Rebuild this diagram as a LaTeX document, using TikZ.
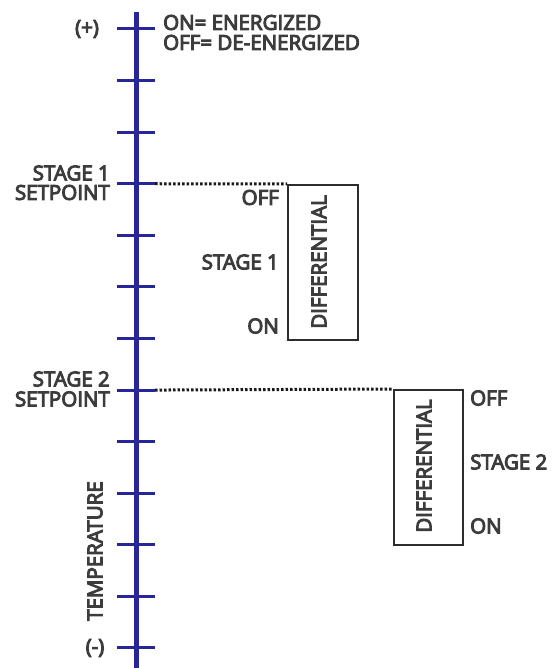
\documentclass[tikz,border=0pt]{standalone}
\usepackage{fontspec}
\newfontfamily\lblfont{Open Sans}[FakeBold=5]
\definecolor{axisblue}{RGB}{38,38,150}
\definecolor{txt}{RGB}{60,60,60}
\definecolor{boxline}{RGB}{45,45,45}
\begin{document}
\begin{tikzpicture}[x=1pt,y=-1pt,
  lbl/.style={font=\lblfont\fontsize{20.5}{20.5}\selectfont, text=txt, inner sep=0pt},
  axisline/.style={draw=axisblue, line width=5pt},
  tickline/.style={draw=axisblue, line width=3pt},
  diffbox/.style={draw=boxline, line width=2pt, inner sep=0pt, anchor=north west},
  dotline/.style={draw=black!90, line width=3pt, dash pattern=on 2.5pt off 2pt}]
\useasboundingbox (0,0) rectangle (552,668);
% axis
\coordinate (atop) at (136,12);
\coordinate (abot) at (136,668);
\draw[axisline] (atop) -- (abot);
% ticks
\foreach \k in {0,...,12}{
  \coordinate (tl\k) at (117,{29+51.58*\k});
  \coordinate (tr\k) at (155,{29+51.58*\k});
  \draw[tickline] (tl\k) -- (tr\k);
}
% legend and end labels
\node[lbl] (plus) at (87,29) {(+)};
\node[lbl] (minus) at (95,648) {(-)};
\node[lbl, anchor=west] (leg1) at (163,22.5) {ON= ENERGIZED};
\node[lbl, anchor=west] (leg2) at (163,42.5) {OFF= DE-ENERGIZED};
\node[lbl, rotate=90] (temp) at (95,551) {TEMPERATURE};
% stage 1
\node[lbl, anchor=east] (sp1a) at (110,173) {STAGE 1};
\node[lbl, anchor=east] (sp1b) at (110,192.5) {SETPOINT};
\node[diffbox, minimum width=70pt, minimum height=155pt] (box1) at (287,184) {};
\node[lbl, rotate=90] (d1) at (319,262) {DIFFERENTIAL};
\node[lbl, anchor=east] (off1) at (279,197.5) {OFF};
\node[lbl, anchor=east] (st1) at (279,262) {STAGE 1};
\node[lbl, anchor=east] (on1) at (279,326) {ON};
\draw[dotline] (tr3) -- (box1.north west);
% stage 2
\node[lbl, anchor=east] (sp2a) at (110,379) {STAGE 2};
\node[lbl, anchor=east] (sp2b) at (110,399) {SETPOINT};
\node[diffbox, minimum width=69pt, minimum height=155pt] (box2) at (393,389) {};
\node[lbl, rotate=90] (d2) at (424,466) {DIFFERENTIAL};
\node[lbl, anchor=west] (off2) at (470,398) {OFF};
\node[lbl, anchor=west] (st2) at (470,462) {STAGE 2};
\node[lbl, anchor=west] (on2) at (470,526) {ON};
\draw[dotline] (tr7) -- (box2.north west);
\end{tikzpicture}
\end{document}
